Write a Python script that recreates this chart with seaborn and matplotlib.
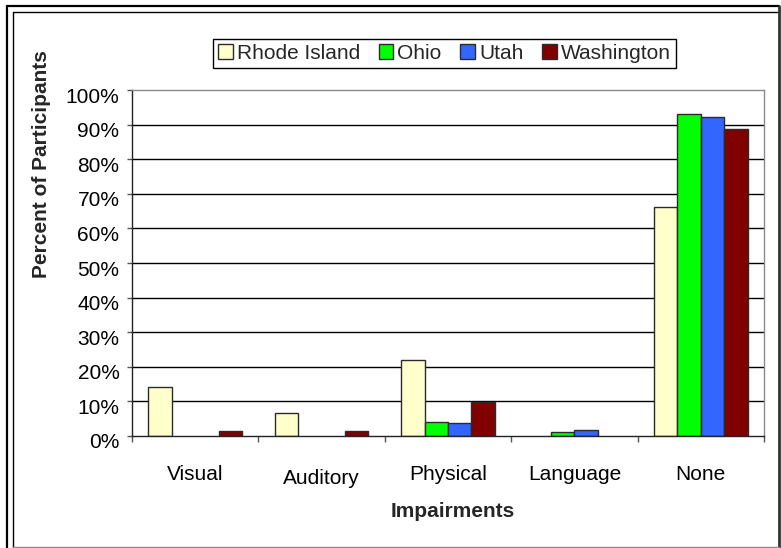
import numpy as np
import pandas as pd
import seaborn as sns
import matplotlib.pyplot as plt
import matplotlib.transforms as mtransforms
from matplotlib.patches import Patch
from matplotlib.lines import Line2D

# Share of participants reporting each impairment, by state (percent)
categories = ["Visual", "Auditory", "Physical", "Language", "None"]
states = ["Rhode Island", "Ohio", "Utah", "Washington"]
rhode_island = [14.3, 6.6, 22.0, 0.0, 66.2]
ohio = [0.0, 0.0, 4.0, 1.1, 93.1]
utah = [0.0, 0.0, 3.8, 1.7, 92.3]
washington = [1.5, 1.5, 9.9, 0.0, 88.6]
state_colors = ["#FFFFCC", "#00FF00", "#3366FF", "#800000"]
y_ticks = [0, 10, 20, 30, 40, 50, 60, 70, 80, 90, 100]

series = [rhode_island, ohio, utah, washington]
df = pd.DataFrame(
    [(cat, st, vals[i]) for st, vals in zip(states, series) for i, cat in enumerate(categories)],
    columns=["Impairment", "State", "Percent"],
)

sns.set_theme(style="white")
plt.rcParams["font.family"] = ["Liberation Sans", "DejaVu Sans"]

W, H = 781, 548
fig = plt.figure(figsize=(W / 100, H / 100), dpi=100)
fig.patch.set_facecolor("white")

# plot area in pixel terms
left, right, top, bottom = 132, 764, 90, 436
ax = fig.add_axes([left / W, 1 - bottom / H, (right - left) / W, (bottom - top) / H])

# horizontal gridlines (drawn below the bars)
for v in y_ticks[1:-1]:
    ax.axhline(v, color="black", lw=1.0, zorder=0)

sns.barplot(
    data=df, x="Impairment", y="Percent", hue="State",
    order=categories, hue_order=states, palette=state_colors,
    saturation=1, width=0.74, gap=0, edgecolor="#2b2b2b", linewidth=1.0,
    legend=False, ax=ax, zorder=2,
)
# empty bars get no outline
for p in ax.patches:
    if p.get_height() == 0:
        p.set_linewidth(0)

ax.set_xlim(-0.5, len(categories) - 0.5)
ax.set_ylim(0, 100)
ax.set_xlabel("")
ax.set_ylabel("")

# y axis
ax.set_yticks(y_ticks)
ax.set_yticklabels([f"{v}%" for v in y_ticks], fontsize=15, color="black")
ax.tick_params(axis="y", direction="out", length=3.5, width=1, color="#555555", pad=5.5, left=True)
shift_down = mtransforms.ScaledTranslation(0, -5 / 100, fig.dpi_scale_trans)
for lab in ax.get_yticklabels():
    lab.set_transform(lab.get_transform() + shift_down)

# x axis: labels at category centres, tick marks at category boundaries
ax.set_xticks(range(len(categories)))
ax.set_xticklabels(categories, fontsize=15, color="black")
ax.tick_params(axis="x", which="major", length=0, pad=21)
ax.set_xticks(np.arange(-0.5, len(categories), 1.0), minor=True)
ax.tick_params(axis="x", which="minor", direction="out", length=4, width=1, color="#555555", bottom=True)
stagger = mtransforms.ScaledTranslation(0, -4 / 100, fig.dpi_scale_trans)
xl = ax.get_xticklabels()
xl[1].set_transform(xl[1].get_transform() + stagger)

for side in ["left", "bottom"]:
    ax.spines[side].set_color("#222222")
    ax.spines[side].set_linewidth(1.0)
for side in ["top", "right"]:
    ax.spines[side].set_color("#8a8a8a")
    ax.spines[side].set_linewidth(1.0)

# axis titles
fig.text(452.5 / W, 1 - 511.5 / H, "Impairments", fontsize=15, fontweight="bold",
         ha="center", va="center")
fig.text(42 / W, 1 - 164.5 / H, "Percent of Participants", fontsize=15, fontweight="bold",
         rotation=90, ha="center", va="center")

# legend
handles = [Patch(facecolor=c, edgecolor="#2b2b2b", linewidth=1.0) for c in state_colors]
leg = fig.legend(
    handles, states, loc="center", bbox_to_anchor=(444.5 / W, 1 - 53.5 / H), ncol=4,
    fontsize=15, frameon=True, fancybox=False, edgecolor="black", framealpha=1,
    handlelength=0.7, handleheight=0.7, handletextpad=0.2, columnspacing=0.9,
    borderpad=0.25, borderaxespad=0,
)
leg.get_frame().set_linewidth(1.0)

# chart border
def fline(x0, y0, x1, y1, **kw):
    fig.add_artist(Line2D([x0 / W, x1 / W], [1 - y0 / H, 1 - y1 / H],
                          transform=fig.transFigure, **kw))

fline(7.5, 6, 7.5, H, color="black", lw=1.6)
fline(7.5, 6, 779, 6, color="black", lw=1.6)
fline(12.5, 12, 12.5, H, color="black", lw=1.0)
fline(12.5, 12, 779, 12, color="black", lw=1.0)
fline(779, 6, 779, H, color="#333333", lw=2.0)
fline(12.5, 547, 779, 547, color="#8a8a8a", lw=1.0)

fig.savefig("out.png", dpi=100, facecolor="white")
